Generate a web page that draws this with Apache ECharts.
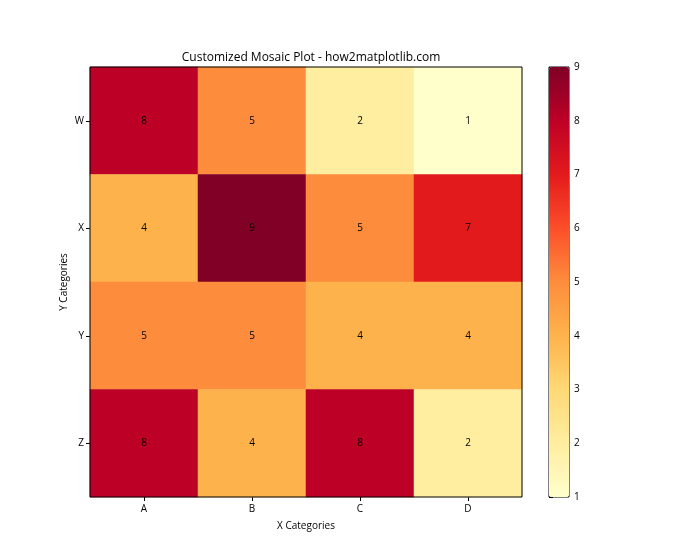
<!DOCTYPE html>
<html><head><meta charset="utf-8">
<script src="https://cdn.jsdelivr.net/npm/echarts@6/dist/echarts.min.js"></script>
<style>html,body{margin:0;padding:0;background:#fff}#c{width:700px;height:560px}</style>
</head><body><div id="c"></div>
<script>
const xCategories = ['A','B','C','D'];
const yCategories = ['W','X','Y','Z'];
const rowW = [8,5,2,1];
const rowX = [4,9,5,7];
const rowY = [5,5,4,4];
const rowZ = [8,4,8,2];
const colorbarTicks = [1,2,3,4,5,6,7,8,9];
const titleText = 'Customized Mosaic Plot - how2matplotlib.com';
const ylOrRd = ['#ffffcc','#ffeda0','#fed976','#feb24c','#fd8d3c','#fc4e2a','#e31a1c','#bd0026','#800026'];

const rows = {W: rowW, X: rowX, Y: rowY, Z: rowZ};
const data = [];
yCategories.forEach((yc, yi) => {
  rows[yc].forEach((v, xi) => data.push([xi, yi, v]));
});
const FONT = '"Open Sans", "Noto Sans", sans-serif';
const chart = echarts.init(document.getElementById('c'));
chart.setOption({
  animation: false,
  title: {text: titleText, left: 306, top: 47, textAlign: 'center',
    textStyle: {fontFamily: FONT, fontSize: 12, fontWeight: 'normal', color: '#000'}},
  grid: [
    {left: 90, top: 67, width: 432, height: 430, show: true, borderColor: '#000', borderWidth: 1, z: 10, backgroundColor: 'transparent'},
    {left: 549, top: 67, width: 20, height: 430, show: true, borderColor: '#000', borderWidth: 1, backgroundColor: 'transparent'}
  ],
  xAxis: [
    {type: 'category', data: xCategories, gridIndex: 0, position: 'bottom',
      name: 'X Categories', nameLocation: 'middle', nameGap: 24, nameMoveOverlap: false,
      nameTextStyle: {fontFamily: FONT, fontSize: 10, color: '#000'},
      axisLine: {show: false}, axisTick: {show: true, alignWithLabel: true, length: 4, lineStyle: {color: '#000'}},
      axisLabel: {fontFamily: FONT, fontSize: 10, color: '#000', margin: 7}, splitLine: {show: false}},
    {type: 'value', gridIndex: 1, show: false, min: 0, max: 1}
  ],
  yAxis: [
    {type: 'category', data: yCategories, gridIndex: 0, inverse: true,
      name: 'Y Categories', nameLocation: 'middle', nameGap: 21, nameMoveOverlap: false,
      nameTextStyle: {fontFamily: FONT, fontSize: 10, color: '#000'},
      axisLine: {show: false}, axisTick: {show: true, alignWithLabel: true, length: 4, lineStyle: {color: '#000'}},
      axisLabel: {fontFamily: FONT, fontSize: 10, color: '#000', margin: 6}, splitLine: {show: false}},
    {type: 'value', gridIndex: 1, position: 'right', min: 1, max: 9, interval: 1,
      axisLine: {show: false}, axisTick: {show: true, length: 4, lineStyle: {color: '#000'}},
      axisLabel: {fontFamily: FONT, fontSize: 10, color: '#000', margin: 5,
        formatter: v => colorbarTicks.includes(v) ? String(v) : ''},
      splitLine: {show: false}}
  ],
  visualMap: {
    type: 'continuous', min: 1, max: 9, calculable: false, seriesIndex: 0,
    left: 549, top: 67, itemWidth: 20, itemHeight: 430, padding: 0,
    text: null, showLabel: false, hoverLink: false,
    inRange: {color: ylOrRd}
  },
  series: [{
    type: 'heatmap', xAxisIndex: 0, yAxisIndex: 0, data: data,
    label: {show: true, fontFamily: FONT, fontSize: 10, color: '#000'},
    itemStyle: {borderWidth: 0}
  }]
});
</script></body></html>
